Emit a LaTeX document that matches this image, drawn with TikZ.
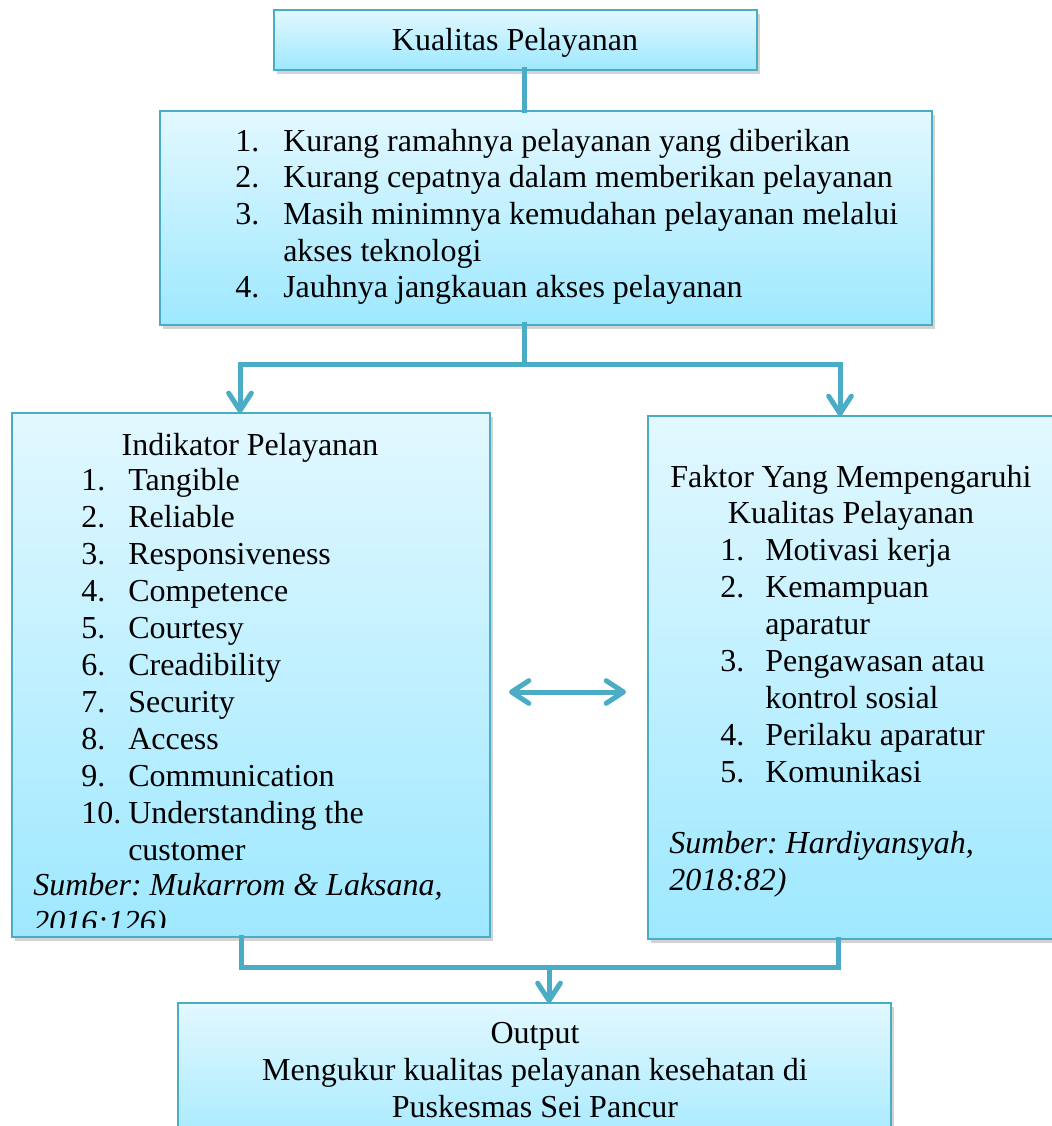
\documentclass[tikz,border=0pt]{standalone}
\usepackage{fontspec}
\setmainfont{Liberation Serif}
\frenchspacing
\usetikzlibrary{arrows.meta,shadows,calc}
\definecolor{boxline}{RGB}{75,172,198}
\definecolor{boxtop}{RGB}{226,248,255}
\definecolor{boxbot}{RGB}{158,232,255}
\definecolor{connc}{RGB}{75,172,198}
\tikzset{
  box/.style={draw=boxline,line width=1.5pt,top color=boxtop,bottom color=boxbot,
    drop shadow={shadow xshift=2pt,shadow yshift=-3pt,opacity=0.35},
    anchor=north west,inner sep=0pt,outer sep=0pt},
  conn/.style={draw=connc,line width=3.75pt,line cap=rect},
  tip/.style={-{Straight Barb[length=13pt,width=17pt,line cap=round,round]}},
  dtip/.style={{Straight Barb[length=13pt,width=17pt,line cap=round,round]}-{Straight Barb[length=13pt,width=17pt,line cap=round,round]}},
  txt/.style={anchor=base west,inner sep=0pt},
  ctxt/.style={anchor=base,inner sep=0pt}
}
\begin{document}
\begin{tikzpicture}[x=0.75pt,y=-0.75pt,font=\fontsize{24pt}{27.75pt}\selectfont]% 1 unit = 1 px
\useasboundingbox (0,0) rectangle (1051,1126);
% boxes
\node[box,minimum width=483*0.75pt,minimum height=60*0.75pt] (kp) at (274,10) {};
\node[box,minimum width=772*0.75pt,minimum height=214*0.75pt] (masalah) at (160,111) {};
\node[box,minimum width=478*0.75pt,minimum height=524*0.75pt] (indikator) at (12,413) {};
\node[box,minimum width=420*0.75pt,minimum height=523*0.75pt] (faktor) at (648,416) {};
\node[box,minimum width=713*0.75pt,minimum height=160*0.75pt] (output) at (178,1003) {};
% coordinates
\path (524,364) coordinate (J1)
      (240,364) coordinate (L1)
      (840,364) coordinate (R1)
      (241,967) coordinate (L2)
      (838,967) coordinate (R2)
      (549,967) coordinate (J2)
      (509,692) coordinate (D1)
      (626,692) coordinate (D2);
% connectors
\draw[conn] (J1 |- kp.south) -- (J1 |- masalah.north);
\draw[conn] (J1 |- masalah.south) -- (J1);
\draw[conn] (L1) -- (R1);
\draw[conn,tip] (L1) -- (L1 |- indikator.north);
\draw[conn,tip] (R1) -- (R1 |- faktor.north);
\draw[conn] (L2 |- indikator.south) -- (L2) -- (R2) -- (R2 |- faktor.south);
\draw[conn,tip] (J2) -- (J2 |- output.north);
\draw[conn,dtip] (D1) -- (D2);
% texts
\node[ctxt] (kpt) at (515,51) {Kualitas Pelayanan};
\foreach \y/\n/\t [count=\i] in {152/1./Kurang ramahnya pelayanan yang diberikan,
  188/2./Kurang cepatnya dalam memberikan pelayanan,
  225/3./Masih minimnya kemudahan pelayanan melalui,
  262//akses teknologi,
  298/4./Jauhnya jangkauan akses pelayanan}
  {\node[txt] (mn\i) at (235,\y) {\n};
   \node[txt] (mt\i) at (283,\y) {\t};}
\node[ctxt] (indt) at (250,455) {Indikator Pelayanan};
\foreach \y/\n/\t [count=\i] in {490/1./Tangible,527/2./Reliable,564/3./Responsiveness,
  601/4./Competence,638/5./Courtesy,675/6./Creadibility,712/7./Security,
  749/8./Access,786/9./Communication,823/10./Understanding the,860//customer}
  {\node[txt] (in\i) at (81,\y) {\n};
   \node[txt] (it\i) at (128,\y) {\t};}
\begin{scope}
  \clip (12,413) rectangle (490,927);
  \node[txt] (isum1) at (33,895) {\itshape Sumber: Mukarrom \& Laksana,};
  \node[txt] (isum2) at (33,932) {\itshape 2016:126)};
\end{scope}
\node[ctxt] (fakt1) at (851,487) {Faktor Yang Mempengaruhi};
\node[ctxt] (fakt2) at (851,523) {Kualitas Pelayanan};
\foreach \y/\n/\t [count=\i] in {560/1./Motivasi kerja,597/2./Kemampuan,634//aparatur,
  671/3./Pengawasan atau,708//kontrol sosial,745/4./Perilaku aparatur,782/5./Komunikasi}
  {\node[txt] (fn\i) at (720,\y) {\n};
   \node[txt] (ft\i) at (765,\y) {\t};}
\node[txt] (fsum1) at (669,853) {\itshape Sumber: Hardiyansyah,};
\node[txt] (fsum2) at (669,890) {\itshape 2018:82)};
\node[ctxt] (out1) at (535,1043) {Output};
\node[ctxt] (out2) at (535,1080) {Mengukur kualitas pelayanan kesehatan di};
\node[ctxt] (out3) at (535,1117) {Puskesmas Sei Pancur};
\end{tikzpicture}
\end{document}
